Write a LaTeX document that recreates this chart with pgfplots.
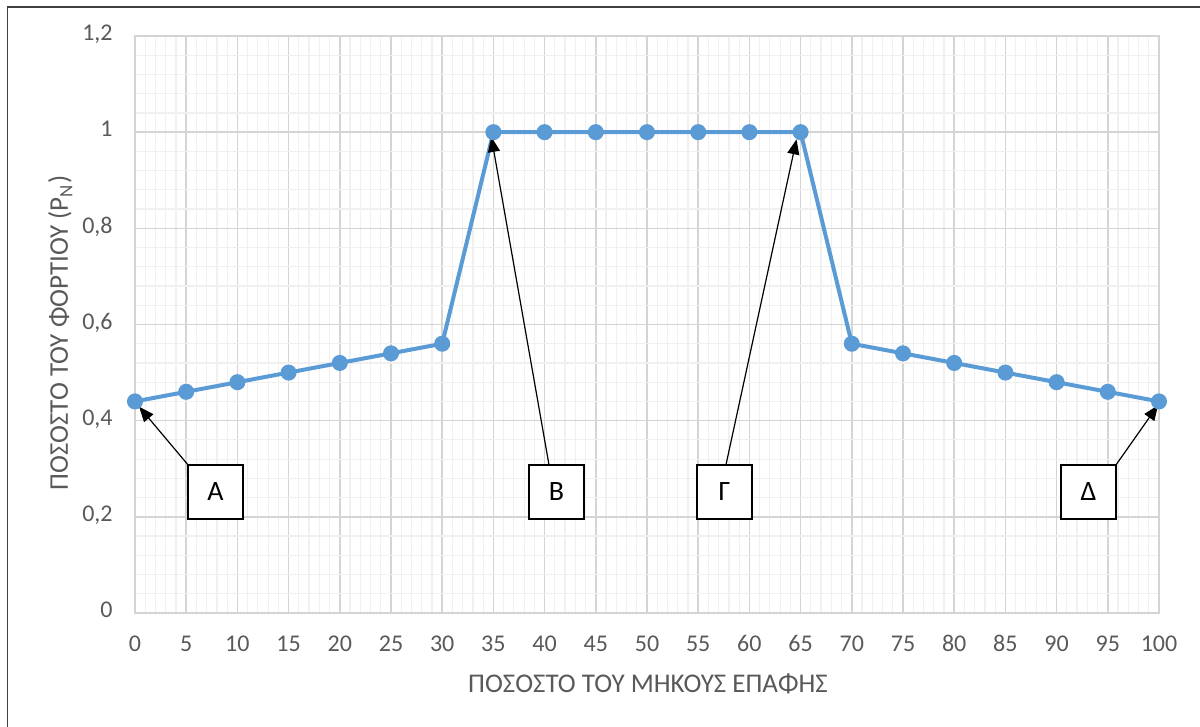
\documentclass[border=0pt]{standalone}
\usepackage{fontspec}
\setmainfont{Carlito}
\usepackage{pgfplots}
\pgfplotsset{compat=1.18}
\usetikzlibrary{arrows.meta}

\definecolor{seriesblue}{HTML}{5B9BD5}
\definecolor{majorgrid}{HTML}{D4D4D4}
\definecolor{minorgrid}{HTML}{F0F0F0}
\definecolor{ticktext}{HTML}{595959}
\definecolor{framegray}{HTML}{404040}

\begin{document}
\begin{tikzpicture}
\useasboundingbox (0,0) rectangle (600pt,363.5pt);
% outer frame (top and left edges)
\draw[framegray, line width=0.8pt] (3.7pt,-2pt) -- (3.7pt,359.9pt) -- (602pt,359.9pt);

\begin{axis}[
  at={(67.5pt,57pt)}, anchor=south west,
  scale only axis, width=512pt, height=288.5pt,
  xmin=0, xmax=100, ymin=0, ymax=1.2,
  xtick distance=5, minor x tick num=4,
  ytick={0,0.2,0.4,0.6,0.8,1,1.2}, minor y tick num=4,
  grid=both,
  major grid style={majorgrid, line width=0.75pt},
  minor grid style={minorgrid, line width=0.6pt},
  axis line style={majorgrid, line width=0.75pt},
  major tick length=0pt, minor tick length=0pt,
  /pgf/number format/use comma,
  /pgf/number format/assume math mode=true,
  tick label style={font=\fontsize{12}{14}\selectfont, text=ticktext, inner sep=0pt},
  xticklabel style={anchor=base, yshift=-19.5pt},
  yticklabel style={anchor=mid east, xshift=-11pt},
  xlabel={ΠΟΣΟΣΤΟ ΤΟΥ ΜΗΚΟΥΣ ΕΠΑΦΗΣ},
  ylabel={ΠΟΣΟΣΤΟ ΤΟΥ ΦΟΡΤΙΟΥ (P\textsubscript{N})},
  label style={font=\fontsize{13.5}{16}\selectfont, text=ticktext, inner sep=0pt},
  xlabel style={at={(axis description cs:0.501,-0.123)}, anchor=center},
  ylabel style={at={(axis description cs:-0.073,0.485)}, anchor=center, rotate=0},
  clip=false,
]
\addplot[seriesblue, line width=2pt, mark=*, mark size=3pt,
  mark options={fill=seriesblue, draw=seriesblue}] table {
x y
0 0.44
5 0.46
10 0.48
15 0.50
20 0.52
25 0.54
30 0.56
35 1.00
40 1.00
45 1.00
50 1.00
55 1.00
60 1.00
65 1.00
70 0.56
75 0.54
80 0.52
85 0.50
90 0.48
95 0.46
100 0.44
};

% callout arrows
\tikzset{callout/.style={black, line width=0.6pt, -{Triangle[length=7.5pt,width=6pt]}}}
\draw[callout] (axis cs:5.18,0.308) -- (axis cs:0.4,0.429);
\draw[callout] (axis cs:40.43,0.308) -- (axis cs:34.8,0.99);
\draw[callout] (axis cs:57.71,0.308) -- (axis cs:64.6,0.985);
\draw[callout] (axis cs:95.8,0.308) -- (axis cs:99.9,0.432);

% callout boxes
\tikzset{calloutbox/.style={draw=black, line width=0.7pt, fill=white, minimum width=27.5pt, minimum height=27pt, inner sep=0pt, font=\fontsize{14}{16}\selectfont}}
\node[calloutbox] at (axis cs:7.86,0.2517) {A};
\node[calloutbox] at (axis cs:41.16,0.2517) {Β};
\node[calloutbox] at (axis cs:57.57,0.2517) {Γ};
\node[calloutbox] at (axis cs:93.12,0.2517) {Δ};
\end{axis}
\end{tikzpicture}
\end{document}
